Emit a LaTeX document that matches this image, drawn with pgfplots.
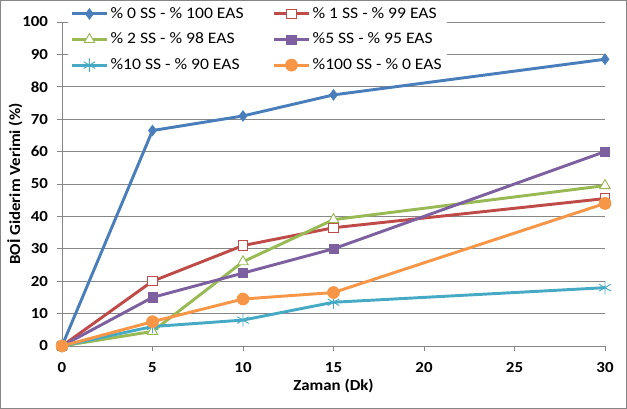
\documentclass[border=0pt]{standalone}
\usepackage{pgfplots}
\pgfplotsset{compat=1.18}
\usepackage{fontspec}
\setmainfont{Carlito}[FakeStretch=1.1]
\definecolor{cblue}{RGB}{74,126,187}
\definecolor{cred}{RGB}{190,75,72}
\definecolor{cgreen}{RGB}{152,185,84}
\definecolor{cpurple}{RGB}{125,96,160}
\definecolor{cteal}{RGB}{70,170,197}
\definecolor{corange}{RGB}{247,150,70}
\definecolor{cgrid}{RGB}{134,134,134}
\begin{document}
\begin{tikzpicture}[x=0.75pt,y=0.75pt]
\path[use as bounding box] (0,0) rectangle (627,409);
\begin{axis}[
  at={(62*0.75pt,63*0.75pt)}, anchor=south west,
  scale only axis, width=543*0.75pt, height=324*0.75pt,
  xmin=0, xmax=30, ymin=0, ymax=100,
  xtick={0,5,...,30}, ytick={0,10,...,100},
  axis x line*=bottom, axis y line*=left,
  axis line style={cgrid, line width=0.6pt},
  x axis line style={-}, y axis line style={-},
  tick align=outside, major tick length=4pt,
  tick style={cgrid, line width=0.6pt},
  ymajorgrids, grid style={cgrid, line width=0.6pt},
  /pgf/number format/assume math mode=true,
  ticklabel style={font=\fontsize{11.5}{13}\selectfont\bfseries},
  xticklabel style={yshift=-5pt},
  yticklabel style={xshift=-3pt},
  xlabel={\bfseries Zaman (Dk)},
  ylabel={\bfseries BOİ Giderim Verimi (\%)},
  label style={font=\fontsize{11.5}{12}\selectfont},
  xlabel style={yshift=2pt},
  ylabel style={yshift=-7pt},
  legend columns=2,
  legend style={at={(axis description cs:0.011,1.06)}, anchor=north west,
    draw=none, fill=white, font=\fontsize{12}{13}\selectfont,
    row sep=5.5pt, /tikz/column 2/.style={column sep=20pt},
    inner xsep=2pt, inner ysep=1.5pt},
  legend cell align=left,
  legend image code/.code={\draw[mark repeat=2,mark phase=2] plot coordinates {(0cm,0cm) (0.45cm,0cm) (0.9cm,0cm)};},
  every axis plot/.append style={line width=2.2pt},
  clip=false,
]
\addplot[cblue, mark=diamond*, mark size=4pt, mark options={fill=cblue, line width=0.5pt}]
  coordinates {(0,0) (5,66.5) (10,71) (15,77.5) (30,88.5)};
\addlegendentry{\% 0 SS - \% 100 EAS}
\addplot[cred, mark=square*, mark size=3.5pt, mark options={fill=white, draw=cred, line width=0.7pt}]
  coordinates {(0,0) (5,20) (10,31) (15,36.5) (30,45.5)};
\addlegendentry{\% 1 SS - \% 99 EAS}
\addplot[cgreen, mark=triangle*, mark size=4.5pt, mark options={fill=white, draw=cgreen, line width=0.7pt}]
  coordinates {(0,0) (5,4.5) (10,26) (15,39) (30,49.5)};
\addlegendentry{\% 2 SS - \% 98 EAS}
\addplot[cpurple, mark=square*, mark size=3.5pt, mark options={fill=cpurple, line width=0.5pt}]
  coordinates {(0,0) (5,15) (10,22.5) (15,30) (30,60)};
\addlegendentry{\%5 SS - \% 95 EAS}
\addplot[cteal, mark=asterisk, mark size=5pt, mark options={line width=0.7pt}]
  coordinates {(0,0) (5,6) (10,8) (15,13.5) (30,18)};
\addlegendentry{\%10 SS - \% 90 EAS}
\addplot[corange, mark=*, mark size=4.5pt, mark options={fill=corange, line width=0.5pt}]
  coordinates {(0,0) (5,7.5) (10,14.5) (15,16.5) (30,44)};
\addlegendentry{\%100 SS - \% 0 EAS}
\end{axis}
\draw[cgrid, line width=0.75pt] (0.5,0.5) rectangle (626.5,408.5);
\end{tikzpicture}
\end{document}
